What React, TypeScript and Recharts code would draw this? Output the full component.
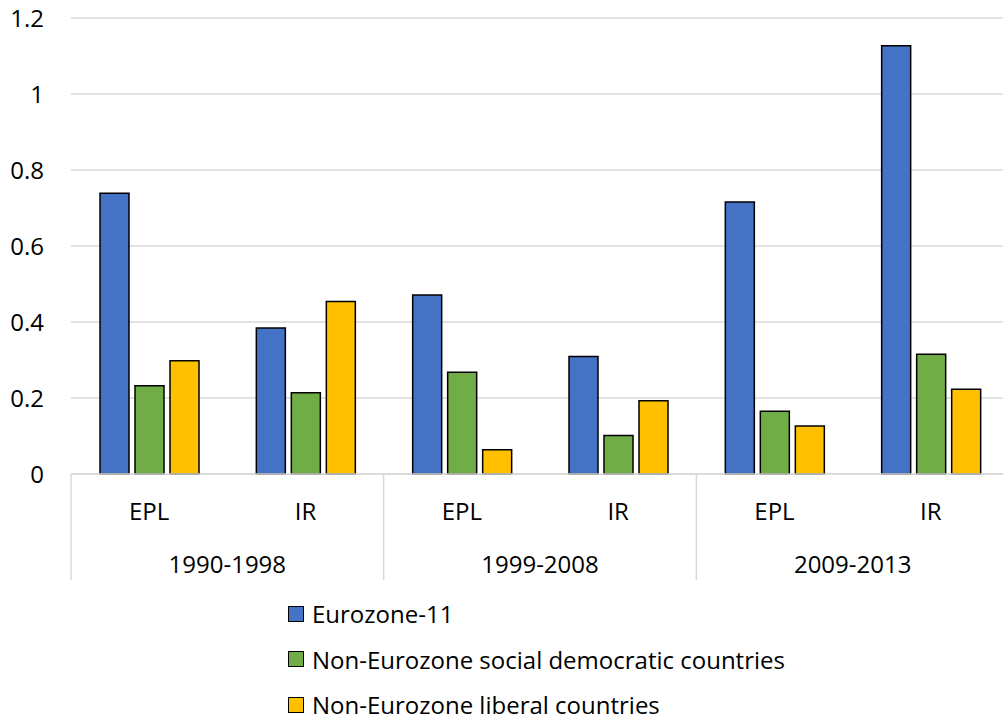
import { BarChart, Bar, XAxis, YAxis, CartesianGrid, Legend } from "recharts"

const periods = ["1990-1998", "1999-2008", "2009-2013"]
const measures = ["EPL", "IR"]

// one value per period x measure, in order: EPL, IR for each period
const eurozone11 = [0.739, 0.384, 0.471, 0.309, 0.716, 1.127]
const socialDemocratic = [0.232, 0.214, 0.268, 0.101, 0.165, 0.315]
const liberal = [0.298, 0.454, 0.064, 0.193, 0.126, 0.223]

const yTicks = [0, 0.2, 0.4, 0.6, 0.8, 1, 1.2]

const seriesNames = [
  "Eurozone-11",
  "Non-Eurozone social democratic countries",
  "Non-Eurozone liberal countries",
]
const seriesColors = ["#4472C4", "#70AD47", "#FFC000"]

const data = periods.flatMap((period, i) =>
  measures.map((measure, j) => ({
    key: `${period} ${measure}`,
    period,
    measure,
    eurozone: eurozone11[i * 2 + j],
    social: socialDemocratic[i * 2 + j],
    liberal: liberal[i * 2 + j],
  }))
)

const FONT = "'Open Sans', sans-serif"
const FS = 24
const GRID = "#d9d9d9"

function MeasureTick(props: any) {
  const { x, y, payload, index } = props
  const half = payload?.offset ?? 0
  const last = index === data.length - 1
  return (
    <g>
      <text
        x={x}
        y={y + 36}
        textAnchor="middle"
        dominantBaseline="central"
        fontSize={FS}
        fontFamily={FONT}
        fill="#000"
      >
        {data[index]?.measure}
      </text>
      {index % 2 === 0 && half > 0 && (
        <line x1={x - half} x2={x - half} y1={y} y2={y + 106} stroke={GRID} strokeWidth={1.5} />
      )}
      {last && half > 0 && (
        <line x1={x + half} x2={x + half} y1={y} y2={y + 106} stroke={GRID} strokeWidth={1.5} />
      )}
    </g>
  )
}

function PeriodTick(props: any) {
  const { x, y, payload } = props
  return (
    <text
      x={x}
      y={y + 34.5}
      textAnchor="middle"
      dominantBaseline="central"
      fontSize={FS}
      fontFamily={FONT}
      fill="#000"
    >
      {payload.value}
    </text>
  )
}

function LegendBox() {
  return (
    <div style={{ height: 140, paddingLeft: 288, paddingTop: 11, boxSizing: "border-box" }}>
      {seriesNames.map((name, i) => (
        <div key={name} style={{ display: "flex", alignItems: "center", height: 45.5 }}>
          <span
            style={{
              width: 14,
              height: 14,
              background: seriesColors[i],
              border: "1.5px solid #000",
              marginRight: 8,
              flex: "none",
            }}
          />
          <span style={{ fontFamily: FONT, fontSize: FS, color: "#000", whiteSpace: "nowrap" }}>
            {name}
          </span>
        </div>
      ))}
    </div>
  )
}

export default function App() {
  return (
    <div
      style={{
        position: "absolute",
        left: 0,
        top: 0,
        width: 1003,
        height: 720,
        overflow: "hidden",
        background: "#fff",
      }}
    >
      <BarChart
        width={1010}
        height={720}
        data={data}
        margin={{ top: 18, right: 1, left: 0, bottom: 0 }}
        barSize={29}
        barGap={6}
        style={{ fontFamily: FONT }}
      >
        <CartesianGrid vertical={false} stroke={GRID} strokeWidth={1.5} />
        <XAxis
          dataKey="key"
          interval={0}
          height={55}
          tickSize={0}
          tickMargin={0}
          tickLine={false}
          axisLine={{ stroke: GRID, strokeWidth: 1.5 }}
          tick={<MeasureTick />}
        />
        <XAxis
          xAxisId="period"
          dataKey="period"
          allowDuplicatedCategory={false}
          interval={0}
          height={51}
          tickSize={0}
          tickMargin={0}
          tickLine={false}
          axisLine={false}
          tick={<PeriodTick />}
        />
        <YAxis
          domain={[0, 1.2]}
          ticks={yTicks}
          width={71}
          axisLine={false}
          tickLine={false}
          tickSize={0}
          tickMargin={27}
          tick={{ fill: "#000", fontSize: FS, fontFamily: FONT }}
        />
        <Legend
          verticalAlign="bottom"
          align="left"
          layout="horizontal"
          content={<LegendBox />}
          wrapperStyle={{ left: 0, bottom: 0 }}
        />
        <Bar dataKey="eurozone" name={seriesNames[0]} fill={seriesColors[0]} stroke="#000" strokeWidth={1.5} isAnimationActive={false} />
        <Bar dataKey="social" name={seriesNames[1]} fill={seriesColors[1]} stroke="#000" strokeWidth={1.5} isAnimationActive={false} />
        <Bar dataKey="liberal" name={seriesNames[2]} fill={seriesColors[2]} stroke="#000" strokeWidth={1.5} isAnimationActive={false} />
      </BarChart>
    </div>
  )
}
